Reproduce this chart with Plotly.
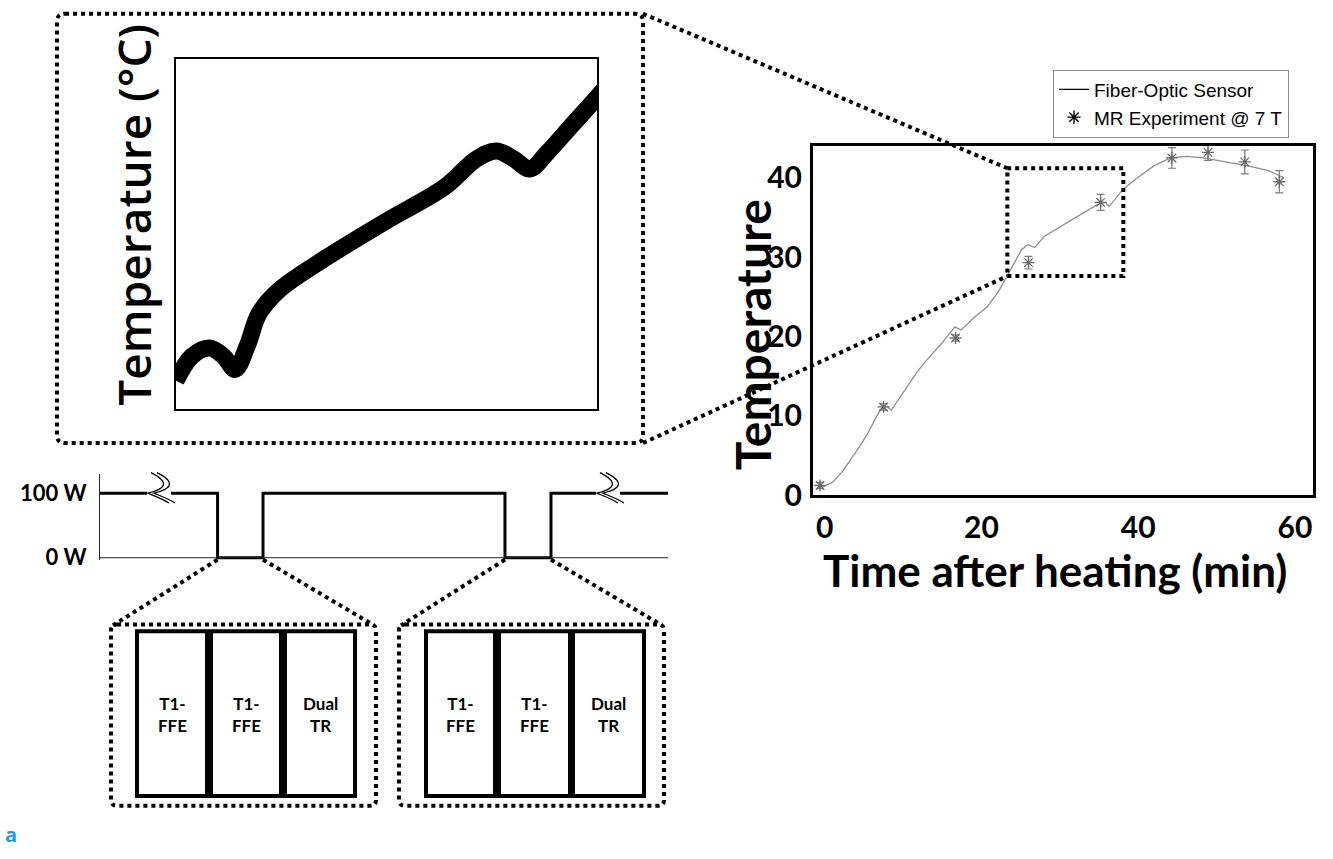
import plotly.graph_objects as go

# ---------------- data ----------------
fiber_t = [-0.3, 1.0, 2.3, 3.5, 4.5, 5.5, 6.3, 7.0, 7.5, 8.0, 8.5, 9.7, 11.7, 13.0, 14.9,
           16.6, 17.4, 19.1, 20.7, 22.2, 23.8, 25.1, 25.9, 26.8, 28.0, 30.6, 33.2, 35.0,
           35.8, 36.3, 38.1, 39.9, 42.0, 44.1, 46.2, 48.3, 51.4, 54.0, 56.6, 58.6]
fiber_T = [1.0, 1.6, 3.0, 4.7, 6.2, 7.8, 9.3, 10.6, 11.2, 11.1, 10.7, 12.4, 15.4, 17.0, 19.1,
           21.2, 20.8, 22.4, 23.7, 25.7, 28.6, 30.9, 31.6, 31.2, 32.6, 34.2, 35.7, 36.7,
           36.9, 36.4, 38.6, 40.0, 41.5, 42.5, 42.7, 42.5, 42.0, 41.5, 40.9, 40.0]

mr_t = [-0.6, 7.5, 16.7, 26.0, 35.2, 44.3, 48.9, 53.6, 58.0]
mr_T = [1.2, 11.1, 19.8, 29.3, 36.9, 42.5, 43.2, 42.0, 39.5]
mr_err = [0.4, 0.4, 0.4, 0.8, 1.0, 1.3, 1.0, 1.5, 1.4]

x_ticks = [0, 20, 40, 60]
y_ticks = [0, 10, 20, 30, 40]

# zoomed window (main-plot units) shown in the inset
zoom_t = [23.3, 38.1]
zoom_T = [27.6, 41.2]
inset_t = [23.30, 23.86, 24.48, 24.97, 25.38, 25.80, 26.22, 26.91, 28.58, 30.67, 32.75,
           33.86, 34.56, 35.18, 35.74, 36.36, 37.20, 38.10, 38.5]
inset_T = [28.69, 29.64, 29.96, 29.64, 29.13, 30.03, 31.30, 32.20, 33.47, 34.88, 36.22,
           37.31, 37.62, 37.31, 36.92, 37.56, 38.60, 39.70, 40.2]

# RF power schematic (arbitrary time units 0-100)
power_t = [0, 20.7, 28.7, 71.3, 79.4, 100]
power_W = [100, 0, 100, 0, 100, 100]
power_ticks = [0, 100]
power_ticktext = ["0 W", "100 W"]
break_t = [10.56, 89.6]

seq_labels = ["T1-<br>FFE", "T1-<br>FFE", "Dual<br>TR"]

# ---------------- layout helpers ----------------
W, H = 1333, 859
def px(x): return x / W
def py(y): return 1 - y / H

MAIN = dict(l=813, r=1313, t=149, b=505)
x_range = [-1.5, 62.3]
y_range = [0, 44]
INSET = dict(l=176, r=597, t=60, b=417)
POW = dict(l=100, r=668, t=484, b=571.6)
pow_xr = [0, 100]
pow_yr = [-4, 129]

def main_px(t, T):
    X = MAIN['l'] + (t - x_range[0]) / (x_range[1] - x_range[0]) * (MAIN['r'] - MAIN['l'])
    Y = MAIN['b'] - (T - y_range[0]) / (y_range[1] - y_range[0]) * (MAIN['b'] - MAIN['t'])
    return X, Y

def pow_px(t, w):
    X = POW['l'] + (t - pow_xr[0]) / (pow_xr[1] - pow_xr[0]) * (POW['r'] - POW['l'])
    Y = POW['b'] - (w - pow_yr[0]) / (pow_yr[1] - pow_yr[0]) * (POW['b'] - POW['t'])
    return X, Y

def P(x, y):
    return f"{px(x):.5f},{py(y):.5f}"

def rounded_rect(x0, y0, x1, y1, r):
    return (f"M {P(x0+r,y0)} L {P(x1-r,y0)} Q {P(x1,y0)} {P(x1,y0+r)} "
            f"L {P(x1,y1-r)} Q {P(x1,y1)} {P(x1-r,y1)} L {P(x0+r,y1)} "
            f"Q {P(x0,y1)} {P(x0,y1-r)} L {P(x0,y0+r)} Q {P(x0,y0)} {P(x0+r,y0)} Z")

DOT = "4px,4px"
shapes = []
def pline(x0, y0, x1, y1, width=4, dash=DOT, color="black"):
    shapes.append(dict(type="line", xref="paper", yref="paper",
                       x0=px(x0), y0=py(y0), x1=px(x1), y1=py(y1),
                       line=dict(color=color, width=width, dash=dash), layer="above"))

# ---------------- figure ----------------
fig = go.Figure()

fig.add_trace(go.Scatter(x=fiber_t, y=fiber_T, mode="lines", xaxis="x", yaxis="y",
                         line=dict(color="#8f8f8f", width=1.3), showlegend=False))
fig.add_trace(go.Scatter(x=mr_t, y=mr_T, mode="markers", xaxis="x", yaxis="y",
                         marker=dict(symbol="asterisk-open", size=10, color="#6a6a6a",
                                     line=dict(color="#6a6a6a", width=1.3)),
                         error_y=dict(type="data", array=mr_err, color="#7a7a7a",
                                      thickness=1.2, width=4),
                         showlegend=False))
# legend entries
fig.add_trace(go.Scatter(x=[None], y=[None], mode="lines", name="Fiber-Optic Sensor",
                         line=dict(color="black", width=1.2), xaxis="x", yaxis="y"))
fig.add_trace(go.Scatter(x=[None], y=[None], mode="markers", name="MR Experiment @ 7 T",
                         marker=dict(symbol="asterisk-open", size=11, color="black",
                                     line=dict(color="black", width=1.4)),
                         xaxis="x", yaxis="y"))

# inset
fig.add_trace(go.Scatter(x=inset_t, y=inset_T, mode="lines", xaxis="x2", yaxis="y2",
                         line=dict(color="black", width=17, shape="spline", smoothing=1.0),
                         showlegend=False))

# RF power
fig.add_trace(go.Scatter(x=power_t, y=power_W, mode="lines", xaxis="x3", yaxis="y3",
                         line=dict(color="black", width=3, shape="hv"),
                         cliponaxis=False, showlegend=False))

# ----- shapes -----
shapes.append(dict(type="rect", xref="x", yref="y", x0=zoom_t[0], x1=zoom_t[1],
                   y0=zoom_T[0], y1=zoom_T[1], line=dict(color="black", width=4, dash=DOT),
                   layer="above"))
IO = dict(l=57, t=14, r=643, b=452)
shapes.append(dict(type="path", xref="paper", yref="paper",
                   path=rounded_rect(IO['l'], IO['t'], IO['r'], IO['b'], 8),
                   line=dict(color="black", width=4, dash=DOT), layer="above"))
zx0, zyT = main_px(zoom_t[0], zoom_T[1])
zx0b, zyB = main_px(zoom_t[0], zoom_T[0])
pline(IO['r'], IO['t'], zx0, zyT)
pline(IO['r'], IO['b'], zx0b, zyB)

bx0, by0 = pow_px(pow_xr[0], 0)
bx1, _ = pow_px(pow_xr[1], 0)
pline(bx0, by0, bx1, by0, width=1, dash="solid", color="#222")

for bt in break_t:
    cx, cy = pow_px(bt, 100)
    shapes.append(dict(type="rect", xref="paper", yref="paper",
                       x0=px(cx-13), x1=px(cx+11), y0=py(cy-4), y1=py(cy+4),
                       fillcolor="white", line=dict(width=0), layer="above"))
    for off in (-3, 3):
        c = cx + off
        path = (f"M {P(c-6,cy-21)} C {P(c+6,cy-15)} {P(c+16,cy-6)} {P(c-9,cy)} "
                f"C {P(c-2,cy+3)} {P(c+6,cy+6)} {P(c+12,cy+10)}")
        shapes.append(dict(type="path", xref="paper", yref="paper", path=path,
                           line=dict(color="black", width=1.3), layer="above"))

groups = [dict(outer=(111, 637, 376, 822), inner=[(137, 207), (211, 281), (285, 355)]),
          dict(outer=(399, 637, 664, 822), inner=[(426, 495), (499, 570), (573, 644)])]
drops = [(power_t[1], power_t[2]), (power_t[3], power_t[4])]
annotations = []
for g, (d0, d1) in zip(groups, drops):
    ox0, oy0, ox1, oy1 = g['outer']
    shapes.append(dict(type="path", xref="paper", yref="paper",
                       path=rounded_rect(ox0, oy0, ox1, oy1, 6),
                       line=dict(color="black", width=4, dash=DOT), layer="above"))
    ax0, ay = pow_px(d0, 0)
    ax1, _ = pow_px(d1, 0)
    pline(ax0, ay + 2, ox0 + 2, oy0 + 1)
    pline(ax1, ay + 2, ox1 - 2, oy0 + 1)
    for (ix0, ix1), lab in zip(g['inner'], seq_labels):
        shapes.append(dict(type="rect", xref="paper", yref="paper",
                           x0=px(ix0), x1=px(ix1), y0=py(644), y1=py(812),
                           line=dict(color="black", width=4), layer="above"))
        annotations.append(dict(x=px((ix0+ix1)/2), y=py(729), xref="paper", yref="paper",
                                text=lab, showarrow=False, xanchor="center", yanchor="middle",
                                font=dict(family="Lato", size=17, color="black", weight="bold")))

annotations += [
    dict(x=px(752), y=py(341), xref="paper", yref="paper", text="Temperature",
         textangle=-90, showarrow=False, xanchor="center", yanchor="middle",
         font=dict(family="Lato", size=48, color="black", weight="bold")),
    dict(x=px(1055), y=py(581), xref="paper", yref="paper", text="Time after heating (min)",
         showarrow=False, xanchor="center", yanchor="middle",
         font=dict(family="Lato", size=44, color="black", weight="bold")),
    dict(x=px(133), y=py(219), xref="paper", yref="paper", text="Temperature (°C)",
         textangle=-90, showarrow=False, xanchor="center", yanchor="middle",
         font=dict(family="Open Sans", size=46, color="black", weight=600)),
    dict(x=px(11), y=py(851), xref="paper", yref="paper", text="a",
         showarrow=False, xanchor="center", yanchor="middle",
         font=dict(family="Open Sans", size=20, color="#1f9bd5", weight="bold")),
]

tickfont_main = dict(family="Lato", size=30, color="black", weight="bold")
fig.update_layout(
    width=W, height=H, margin=dict(l=0, r=0, t=0, b=0),
    paper_bgcolor="white", plot_bgcolor="white",
    xaxis=dict(domain=[px(MAIN['l']), px(MAIN['r'])], range=x_range, anchor="y",
               showline=True, mirror=True, linecolor="black", linewidth=3,
               showgrid=False, zeroline=False, ticks="", tickvals=x_ticks,
               tickfont=tickfont_main, ticklabelstandoff=4),
    yaxis=dict(domain=[py(MAIN['b']), py(MAIN['t'])], range=y_range, anchor="x",
               showline=True, mirror=True, linecolor="black", linewidth=3,
               showgrid=False, zeroline=False, ticks="", tickvals=y_ticks,
               tickfont=tickfont_main, ticklabelstandoff=2),
    xaxis2=dict(domain=[px(INSET['l']), px(INSET['r'])], range=zoom_t, anchor="y2",
                showline=True, mirror=True, linecolor="black", linewidth=2,
                showgrid=False, zeroline=False, showticklabels=False, ticks=""),
    yaxis2=dict(domain=[py(INSET['b']), py(INSET['t'])], range=zoom_T, anchor="x2",
                showline=True, mirror=True, linecolor="black", linewidth=2,
                showgrid=False, zeroline=False, showticklabels=False, ticks=""),
    xaxis3=dict(domain=[px(POW['l']), px(POW['r'])], range=pow_xr, anchor="y3",
                showline=False, showgrid=False, zeroline=False, showticklabels=False, ticks=""),
    yaxis3=dict(domain=[py(POW['b']), py(POW['t'])], range=pow_yr, anchor="x3",
                showline=True, linecolor="#222", linewidth=1, showgrid=False, zeroline=False,
                ticks="", tickvals=power_ticks, ticktext=power_ticktext, ticklabelstandoff=8,
                tickfont=dict(family="Lato", size=22, color="black", weight="bold")),
    legend=dict(x=px(1053), y=py(71), xanchor="left", yanchor="top",
                bordercolor="#8a8a8a", borderwidth=1, bgcolor="white",
                font=dict(family="Liberation Sans", size=19, color="black"),
                itemwidth=30, tracegroupgap=0),
    shapes=shapes, annotations=annotations,
)

fig.write_html("out.html")
